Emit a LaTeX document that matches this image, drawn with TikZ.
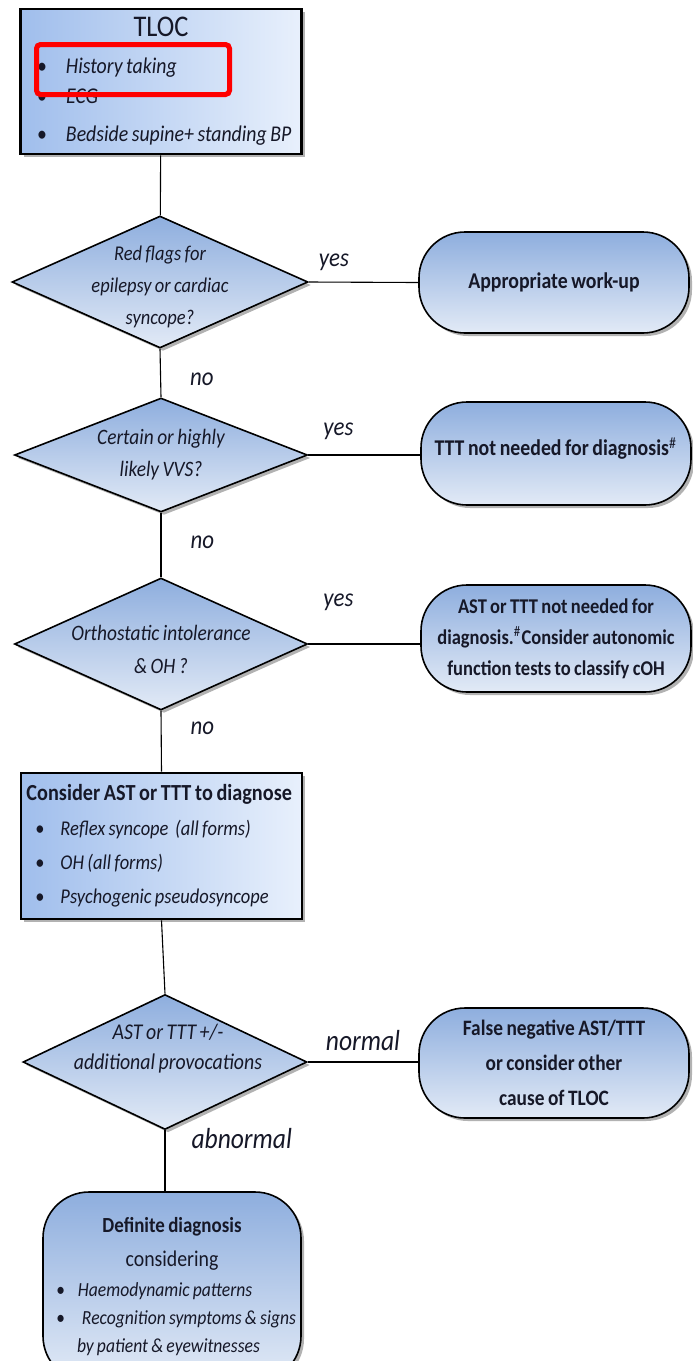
\documentclass[tikz,border=0pt]{standalone}
\usepackage{fontspec}
\setmainfont{Carlito}[FakeStretch=0.88, WordSpace=0.8]
\usetikzlibrary{shapes.geometric,shadows}

\definecolor{inkblue}{RGB}{22,24,40}
\definecolor{boxdark}{RGB}{160,190,236}
\definecolor{boxlight}{RGB}{232,240,252}
\definecolor{shapetop}{RGB}{142,174,222}
\definecolor{shapebot}{RGB}{226,234,246}

\newcommand{\bulitem}[3]{\hspace*{#1}\makebox[#2][l]{\textbullet}\textit{#3}}

\begin{document}
\begin{tikzpicture}[
        x=1pt, y=-1pt,
        every node/.style={text=inkblue},
        softshadow/.style={drop shadow={shadow xshift=3pt, shadow yshift=-3pt, fill=black!60, opacity=.5}},
        box/.style={rectangle, draw=black, line width=2.6pt, left color=boxdark, right color=boxlight,
            softshadow, inner sep=0pt, minimum width=281pt, text width=270pt, align=flush left,
            font=\fontsize{21}{34}\selectfont},
        decision/.style={diamond, draw=black, line width=1.6pt, top color=shapetop, bottom color=shapebot,
            softshadow, inner sep=0pt},
        dtext/.style={align=center, font=\itshape\fontsize{21}{32}\selectfont},
        term/.style={rectangle, rounded corners=46pt, draw=black, line width=1.6pt, top color=shapetop,
            bottom color=shapebot, softshadow, minimum width=270pt, align=center,
            font=\bfseries\fontsize{22.5}{33}\selectfont},
        lbl/.style={font=\itshape\fontsize{26}{26}\selectfont, inner sep=1pt},
        biglbl/.style={font=\itshape\fontsize{29}{29}\selectfont, inner sep=1pt},
        hilite/.style={draw=red, line width=5pt, rounded corners=4pt, minimum width=193pt, minimum height=50pt}
    ]

    \useasboundingbox (0,0) rectangle (693,1361);

    % start box
    \node[box, font=\fontsize{22.5}{34}\selectfont, minimum height=145pt] (tloc) at (161,81.5) {%
        \makebox[\linewidth][c]{\fontsize{30}{30}\selectfont TLOC}\\[3pt]
        \bulitem{11pt}{29pt}{History taking}\\[-4pt]
        \bulitem{11pt}{29pt}{ECG}\\[4pt]
        \bulitem{11pt}{29pt}{Bedside supine+ standing BP}};
    \node[hilite] (histmark) at (133,69.5) {};

    % decisions
    \node[decision, minimum width=296pt, minimum height=132pt,
        label={[dtext, yshift=-5pt]center:Red flags for\\epilepsy or cardiac\\syncope?}] (flags) at (160,282) {};
    \node[decision, minimum width=293pt, minimum height=114pt,
        label={[dtext, font=\itshape\fontsize{22}{32}\selectfont]center:Certain or highly\\likely VVS?}] (vvs) at (161,455) {};
    \node[decision, minimum width=293pt, minimum height=132pt,
        label={[dtext, yshift=-5pt, font=\itshape\fontsize{22}{33}\selectfont]center:Orthostatic intolerance\\\& OH ?}] (orth) at (161,644) {};

    \node[box, minimum height=146pt] (consider) at (161.5,846) {%
        {\bfseries\fontsize{23}{23}\selectfont Consider AST or TTT to diagnose}\\[1pt]
        \bulitem{9pt}{25pt}{Reflex syncope \ (all forms)}\\
        \bulitem{9pt}{25pt}{OH (all forms)}\\
        \bulitem{9pt}{25pt}{Psychogenic pseudosyncope}};

    \node[decision, minimum width=284pt, minimum height=135pt,
        label={[dtext, xshift=3pt, yshift=13pt, font=\itshape\fontsize{22.5}{30}\selectfont]center:AST or TTT +/-\\additional provocations}] (provoke) at (165,1062) {};

    % outcomes
    \node[term, minimum height=101pt] (workup) at (554,282.5) {Appropriate work-up};
    \node[term, minimum height=103pt] (noneed) at (556,453.5) {TTT not needed for diagnosis$^{\#}$\\[-19pt]};
    \node[term, minimum height=107pt, font=\bfseries\fontsize{21}{31}\selectfont] (autonomic) at (556,638.5)
        {AST or TTT not needed for\\diagnosis.$^{\#}$Consider autonomic\\function tests to classify cOH};
    \node[term, minimum height=110pt, font=\bfseries\fontsize{22}{35}\selectfont] (falseneg) at (554,1063)
        {False negative AST/TTT\\or consider other\\cause of TLOC};
    \node[term, minimum width=258pt, minimum height=190pt, align=flush left, text width=250pt,
        font=\itshape\fontsize{20}{28}\selectfont] (definite) at (172,1287) {%
        \makebox[\linewidth][c]{\bfseries\upshape\fontsize{21.5}{21.5}\selectfont Definite diagnosis}\\[6pt]
        \makebox[\linewidth][c]{\upshape\fontsize{22.5}{22.5}\selectfont considering}\\[2pt]
        \bulitem{9pt}{22pt}{Haemodynamic patterns}\\
        \bulitem{9pt}{26pt}{Recognition symptoms \& signs}\\
        \hspace*{30pt}by patient \& eyewitnesses\\[14pt]};

    % connectors
    \draw[line width=1.1pt] (tloc) -- (flags);
    \draw[line width=1.1pt] (flags.south) -- node[lbl, right=28pt, pos=.62] (no1) {no} (vvs.north);
    \draw[line width=1.1pt] (vvs.south) -- node[lbl, right=28pt, pos=.45] (no2) {no} (orth.north);
    \draw[line width=1.1pt] (orth.south) -- node[lbl, right=28pt, pos=.28] (no3) {no} (consider.north);
    \draw[line width=1.1pt] (consider.south) -- (provoke.north);
    \draw[line width=1.1pt] (provoke.south) -- node[biglbl, right=25pt, pos=.13] (abn) {abnormal} (provoke.south |- definite.north);

    \draw[line width=1.1pt] (flags.east) -- node[lbl, above=10pt, pos=.23] (yes1) {yes} (workup.west);
    \draw[line width=1.1pt] (vvs.east) -- node[lbl, above=14pt, pos=.27] (yes2) {yes} (vvs.east -| noneed.west);
    \draw[line width=1.1pt] (orth.east) -- node[lbl, above=32pt, pos=.27] (yes3) {yes} (orth.east -| autonomic.west);
    \draw[line width=1.1pt] (provoke.east) -- node[biglbl, above=10pt, pos=.5] (norm) {normal} (provoke.east -| falseneg.west);

\end{tikzpicture}
\end{document}
